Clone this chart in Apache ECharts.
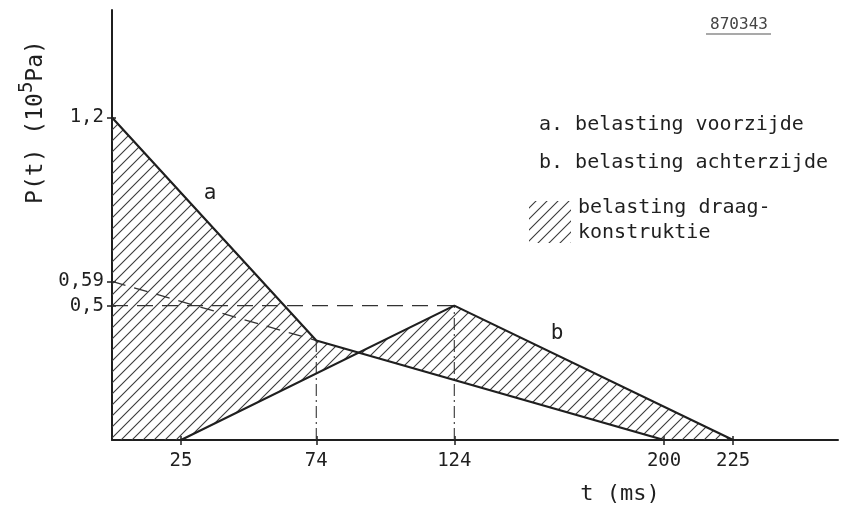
<!DOCTYPE html>
<html>
<head>
<meta charset="utf-8">
<script src="https://cdn.jsdelivr.net/npm/echarts@6/dist/echarts.min.js"></script>
<style>
  html, body { margin: 0; padding: 0; background: #ffffff; }
  #chart { width: 846px; height: 510px; }
</style>
</head>
<body>
<div id="chart"></div>
<script>
// a: load on the front face
const tA = [0, 74, 200];
const pA = [1.2, 0.37, 0];
// b: load on the back face
const tB = [25, 124, 225];
const pB = [0, 0.5, 0];
// back-face load before the wave reaches it (dashed)
const tBpre = [0, 74];
const pBpre = [0.59, 0.37];
// axis ticks
const xTicks = [25, 74, 124, 200, 225];
const yTicks = [0.5, 0.59, 1.2];

const ink = '#1f1f1f';
const font = '"DejaVu Sans Mono", monospace';

const zip = (xs, ys) => xs.map((x, i) => [x, ys[i]]);

// diagonal hatch used for the net load on the supporting structure
function makeHatch(size) {
  const c = document.createElement('canvas');
  c.width = size; c.height = size;
  const g = c.getContext('2d');
  g.strokeStyle = '#3a3a3a';
  g.lineWidth = 1.1;
  g.beginPath();
  g.moveTo(0, size); g.lineTo(size, 0);
  g.moveTo(-2, 2); g.lineTo(2, -2);
  g.moveTo(size - 2, size + 2); g.lineTo(size + 2, size - 2);
  g.stroke();
  return { image: c, repeat: 'repeat' };
}
const hatch = makeHatch(11);

// outline runs along a, back along b; the overlap of both areas cancels out
const region = [[0, 0]].concat(zip(tA, pA), zip(tB, pB).reverse());

const chart = echarts.init(document.getElementById('chart'), null, { renderer: 'canvas' });

const tickStyle = { color: ink, width: 1.5 };

chart.setOption({
  backgroundColor: '#ffffff',
  animation: false,
  grid: { left: 112, right: 8, top: 10, bottom: 70 },
  xAxis: [
    {
      type: 'value', min: 0, max: 263,
      splitLine: { show: false },
      axisLine: { lineStyle: { color: ink, width: 2 } },
      axisTick: { customValues: xTicks, length: 5, lineStyle: tickStyle },
      axisLabel: { customValues: xTicks, margin: 12, color: ink, fontSize: 19, fontFamily: font }
    },
    {
      // inner half of the crossing tick marks
      type: 'value', min: 0, max: 263, position: 'bottom',
      splitLine: { show: false },
      axisLine: { show: false },
      axisTick: { customValues: xTicks, inside: true, length: 4, lineStyle: tickStyle },
      axisLabel: { show: false }
    }
  ],
  yAxis: [
    {
      type: 'value', min: 0, max: 1.6,
      splitLine: { show: false },
      axisLine: { lineStyle: { color: ink, width: 2 } },
      axisTick: { customValues: yTicks, length: 5, lineStyle: tickStyle },
      axisLabel: {
        customValues: yTicks, margin: 8, color: ink, fontSize: 19, fontFamily: font,
        formatter: v => String(v).replace('.', ',')
      }
    },
    {
      type: 'value', min: 0, max: 1.6, position: 'left',
      splitLine: { show: false },
      axisLine: { show: false },
      axisTick: { customValues: yTicks, inside: true, length: 4, lineStyle: tickStyle },
      axisLabel: { show: false }
    }
  ],
  series: [
    {
      type: 'custom', silent: true, z: 1,
      data: [[0, 0]],
      renderItem: (params, api) => ({
        type: 'polygon',
        shape: { points: region.map(p => api.coord(p)) },
        style: { fill: hatch, stroke: null }
      })
    },
    {
      type: 'line', data: zip(tA, pA), symbol: 'none', z: 4,
      lineStyle: { color: ink, width: 2.2 }
    },
    {
      type: 'line', data: zip(tB, pB), symbol: 'none', z: 4,
      lineStyle: { color: ink, width: 2.2 }
    },
    {
      type: 'line', data: zip(tBpre, pBpre), symbol: 'none', z: 3,
      lineStyle: { color: '#333', width: 1.3, type: [14, 9] }
    },
    {
      // level of the peak of b
      type: 'line', data: [[0, pB[1]], [tB[1], pB[1]]], symbol: 'none', z: 3,
      lineStyle: { color: '#333', width: 1.3, type: [16, 9] }
    },
    {
      type: 'line', data: [[tA[1], 0], [tA[1], pA[1]]], symbol: 'none', z: 3,
      lineStyle: { color: '#333', width: 1.1, type: [12, 4, 2, 4] }
    },
    {
      type: 'line', data: [[tB[1], 0], [tB[1], pB[1]]], symbol: 'none', z: 3,
      lineStyle: { color: '#333', width: 1.1, type: [12, 4, 2, 4] }
    }
  ],
  graphic: [
    {
      type: 'text', x: 33, y: 122, rotation: Math.PI / 2,
      style: {
        text: '{n|P(t) (10}{s|5}{n|Pa)}',
        fill: ink, align: 'center', verticalAlign: 'middle',
        rich: {
          n: { fontSize: 23, fontFamily: font, fill: ink, lineHeight: 30, verticalAlign: 'bottom' },
          s: { fontSize: 19, fontFamily: font, fill: ink, lineHeight: 30, verticalAlign: 'top' }
        }
      }
    },
    {
      type: 'text', x: 620, y: 494,
      style: { text: 't (ms)', fontSize: 22, fontFamily: font, fill: ink, align: 'center', verticalAlign: 'middle' }
    },
    {
      type: 'text', x: 210, y: 194,
      style: { text: 'a', fontSize: 21, fontFamily: font, fill: ink, align: 'center', verticalAlign: 'middle' }
    },
    {
      type: 'text', x: 557, y: 334,
      style: { text: 'b', fontSize: 21, fontFamily: font, fill: ink, align: 'center', verticalAlign: 'middle' }
    },
    {
      type: 'text', x: 739, y: 25,
      style: { text: '870343', fontSize: 16, fontFamily: font, fill: '#444', align: 'center', verticalAlign: 'middle' }
    },
    {
      type: 'line', shape: { x1: 706, y1: 34, x2: 771, y2: 34 },
      style: { stroke: '#555', lineWidth: 1.2 }
    },
    {
      type: 'text', x: 539, y: 125,
      style: { text: 'a. belasting voorzijde', fontSize: 20, fontFamily: font, fill: ink, verticalAlign: 'middle' }
    },
    {
      type: 'text', x: 539, y: 163,
      style: { text: 'b. belasting achterzijde', fontSize: 20, fontFamily: font, fill: ink, verticalAlign: 'middle' }
    },
    {
      type: 'rect', shape: { x: 529, y: 201, width: 42, height: 42 },
      style: { fill: hatch, stroke: null }
    },
    {
      type: 'text', x: 578, y: 208,
      style: { text: 'belasting draag-', fontSize: 20, fontFamily: font, fill: ink, verticalAlign: 'middle' }
    },
    {
      type: 'text', x: 578, y: 233,
      style: { text: 'konstruktie', fontSize: 20, fontFamily: font, fill: ink, verticalAlign: 'middle' }
    }
  ]
});
</script>
</body>
</html>
